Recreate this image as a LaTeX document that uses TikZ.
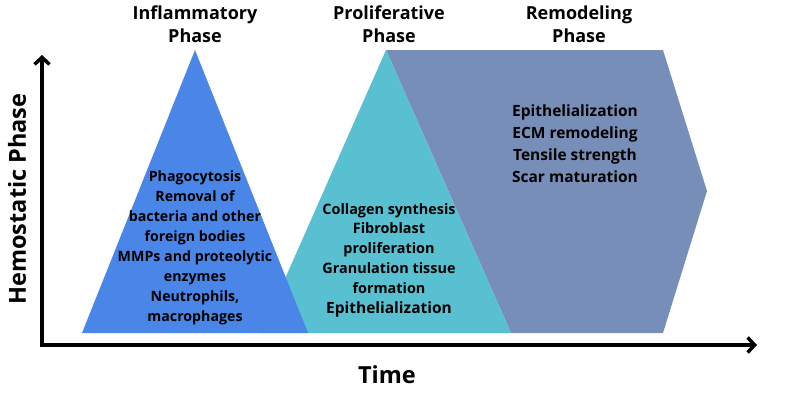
\documentclass[tikz,border=0pt]{standalone}
\usepackage{fontspec}
\setmainfont{Open Sans}
\usetikzlibrary{arrows.meta}
\definecolor{inflblue}{HTML}{4A86E8}
\definecolor{prolteal}{HTML}{58C0D0}
\definecolor{remgray}{HTML}{778FB8}
\tikzset{
  phasetitle/.style={font=\bfseries\fontsize{18}{23.5}\selectfont, align=center, text=black},
  bodytext/.style={font=\bfseries\fontsize{14.2}{20}\selectfont, align=center, text=black},
  prolbody/.style={font=\bfseries\fontsize{14.4}{19.8}\selectfont, align=center, text=black},
  remtext/.style={font=\bfseries\fontsize{15.5}{22}\selectfont, align=center, text=black},
  axislabel/.style={font=\bfseries\fontsize{23.5}{26}\selectfont, text=black},
  axisline/.style={line width=4pt, -{Straight Barb[length=7pt,width=15pt,line width=3.5pt]}}
}
\begin{document}
\begin{tikzpicture}[x=1pt,y=-1pt]
\useasboundingbox (0,0) rectangle (800,400);
% remodeling shape
\fill[remgray] (386,50) -- (663,50) -- (707,191) -- (663,333) -- (511,333) -- cycle;
% proliferative triangle
\fill[prolteal] (386,50) -- (511,333) -- (261,333) -- cycle;
% inflammatory triangle
\fill[inflblue] (195,50) -- (308,333) -- (82,333) -- cycle;
% axes
\coordinate (origin) at (42,345);
\coordinate (ytip) at (42,55);
\coordinate (xtip) at (757,345);
\draw[axisline] (42,347) -- (ytip);
\draw[axisline] (40,345) -- (xtip);
% titles
\node[phasetitle] (tinfl) at (195,24) {Inflammatory\\Phase};
\node[phasetitle] (tprol) at (389,24) {Proliferative\\Phase};
\node[phasetitle] (trem) at (579,24) {Remodeling\\Phase};
% axis labels
\node[axislabel, rotate=90] (ylab) at (17,199) {Hemostatic Phase};
\node[axislabel] (xlab) at (387,375) {Time};
% texts
\node[bodytext] (binfl) at (195,248) {Phagocytosis\\Removal of\\bacteria and other\\foreign bodies\\MMPs and proteolytic\\enzymes\\Neutrophils,\\macrophages};
\node[prolbody] (bprol) at (389,260) {Collagen synthesis\\Fibroblast\\proliferation\\Granulation tissue\\formation\\{\fontsize{15.5}{20}\selectfont Epithelialization}};
\node[remtext] (brem) at (575,144) {Epithelialization\\ECM remodeling\\Tensile strength\\Scar maturation};
\end{tikzpicture}
\end{document}
